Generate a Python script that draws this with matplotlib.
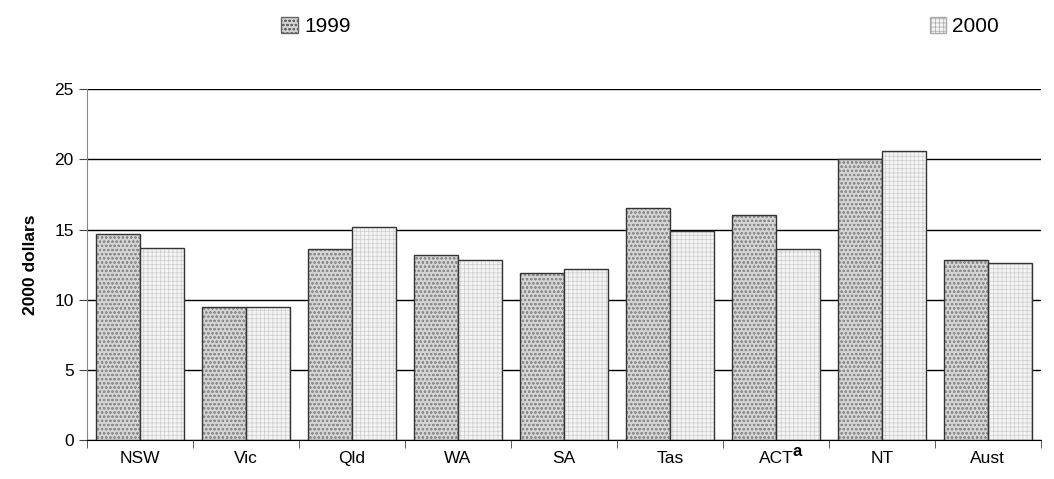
import numpy as np
import matplotlib.pyplot as plt
from matplotlib.patches import Patch

plt.rcParams['font.family'] = ['Liberation Sans', 'DejaVu Sans']
plt.rcParams['hatch.linewidth'] = 0.5

# spending per person, 2000 dollars
states = ['NSW', 'Vic', 'Qld', 'WA', 'SA', 'Tas', 'ACT', 'NT', 'Aust']
val_1999 = [14.7, 9.5, 13.6, 13.2, 11.9, 16.5, 16.0, 20.0, 12.8]
val_2000 = [13.7, 9.5, 15.2, 12.8, 12.2, 14.9, 13.6, 20.6, 12.6]

fig = plt.figure(figsize=(10.54, 4.79), dpi=100)
ax = fig.add_axes([0.0825, 0.081, 0.905, 0.733])

x = np.arange(len(states))
w = 0.415
b1 = ax.bar(x - w / 2, val_1999, w, facecolor='#d4d4d4', edgecolor='#333333',
            hatch='oooo', linewidth=1.0, zorder=3)
b2 = ax.bar(x + w / 2, val_2000, w, facecolor='#f4f4f4', edgecolor='#333333',
            hatch='++++', linewidth=1.0, zorder=3)
for p in b1:
    p._hatch_color = (0.55, 0.55, 0.55, 1)
for p in b2:
    p._hatch_color = (0.8, 0.8, 0.8, 1)

ax.set_xlim(-0.5, len(states) - 0.5)
ax.set_ylim(0, 25)
ax.set_yticks([0, 5, 10, 15, 20, 25])
ax.yaxis.grid(True, color='black', linewidth=1.0, zorder=0)
ax.set_axisbelow(True)

ax.set_xticks(x)
ax.set_xticklabels(states, fontsize=12.5)
ax.set_xticks(np.arange(len(states) + 1) - 0.5, minor=True)
ax.tick_params(axis='x', which='major', length=0, pad=8)
ax.tick_params(axis='x', which='minor', length=6, color='#444444')
ax.tick_params(axis='y', length=6, labelsize=12.5, color='#444444')

# footnote marker on the ACT label
ax.annotate('a', xy=(6, 0), xycoords=('data', 'axes fraction'),
            xytext=(12, -8), textcoords='offset points',
            fontsize=12, fontweight='bold', ha='left', va='center')

ax.set_ylabel('2000 dollars', fontsize=12.5, fontweight='bold', labelpad=12)

for s in ['top', 'right']:
    ax.spines[s].set_visible(False)
ax.spines['left'].set_color('#888888')
ax.spines['bottom'].set_color('black')

h1 = Patch(facecolor='#d4d4d4', edgecolor='#666666', hatch='oooo')
h2 = Patch(facecolor='#f4f4f4', edgecolor='#aaaaaa', hatch='++++')
fig.legend([h1], ['1999'], loc='center', bbox_to_anchor=(0.30, 0.945),
           frameon=False, fontsize=15, handlelength=0.8, handleheight=0.8,
           handletextpad=0.3)
fig.legend([h2], ['2000'], loc='center', bbox_to_anchor=(0.915, 0.945),
           frameon=False, fontsize=15, handlelength=0.8, handleheight=0.8,
           handletextpad=0.3)

fig.savefig('out.png', dpi=100)
